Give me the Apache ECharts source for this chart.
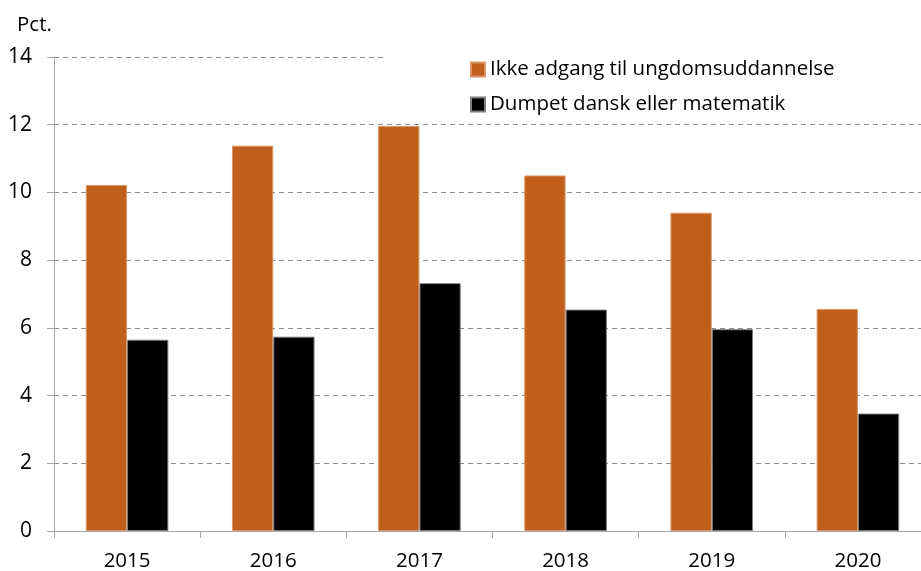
<!DOCTYPE html>
<html>
<head>
<meta charset="utf-8">
<script src="https://cdn.jsdelivr.net/npm/echarts@6/dist/echarts.min.js"></script>
<style>html,body{margin:0;padding:0;background:#fff}#c{width:921px;height:571px}</style>
</head>
<body>
<div id="c"></div>
<script>
const categories = ['2015', '2016', '2017', '2018', '2019', '2020'];
const seriesNames = ['Ikke adgang til ungdomsuddannelse', 'Dumpet dansk eller matematik'];
const ikkeAdgang = [10.22, 11.38, 11.96, 10.50, 9.40, 6.56];
const dumpet = [5.65, 5.74, 7.32, 6.54, 5.96, 3.47];
const yTicks = [0, 2, 4, 6, 8, 10, 12, 14];

const FONT = '"Open Sans", "Noto Sans", sans-serif';
const chart = echarts.init(document.getElementById('c'), null, {renderer: 'canvas'});
chart.setOption({
  animation: false,
  backgroundColor: '#fff',
  title: {
    text: 'Pct.', left: 12, top: 10,
    textStyle: {fontFamily: FONT, fontSize: 20.5, fontWeight: 'normal', color: '#000'}
  },
  legend: {
    data: seriesNames,
    orient: 'vertical',
    left: 383, top: 51,
    padding: [8, 120, 8, 87],
    backgroundColor: '#fff',
    itemWidth: 14, itemHeight: 14, itemGap: 14,
    icon: 'rect',
    textStyle: {fontFamily: FONT, fontSize: 20.5, color: '#000', lineHeight: 20}
  },
  grid: {left: 54, width: 877, top: 57, bottom: 40, containLabel: false, outerBoundsMode: 'none'},
  xAxis: {
    type: 'category', data: categories,
    axisLine: {lineStyle: {color: '#a6a6a6', width: 1}},
    axisTick: {show: true, length: 7, lineStyle: {color: '#a6a6a6'}},
    axisLabel: {fontFamily: FONT, fontSize: 20.5, color: '#000', margin: 20}
  },
  yAxis: {
    type: 'value', min: yTicks[0], max: yTicks[yTicks.length - 1], interval: 2,
    axisLine: {show: true, lineStyle: {color: '#a6a6a6', width: 1}},
    axisTick: {show: true, length: 7, lineStyle: {color: '#a6a6a6'}},
    axisLabel: {fontFamily: FONT, fontSize: 21, color: '#000', margin: 22},
    splitLine: {show: true, lineStyle: {color: '#8c8c8c', type: [5, 4], width: 1}}
  },
  series: [
    {
      name: seriesNames[0], type: 'bar', data: ikkeAdgang,
      barGap: 0, barCategoryGap: '43.5%',
      itemStyle: {color: '#c05f1b', borderColor: '#d99566', borderWidth: 1}
    },
    {
      name: seriesNames[1], type: 'bar', data: dumpet,
      barGap: 0, barCategoryGap: '43.5%',
      itemStyle: {color: '#000000', borderColor: '#7f7f7f', borderWidth: 1}
    }
  ]
});
</script>
</body>
</html>
